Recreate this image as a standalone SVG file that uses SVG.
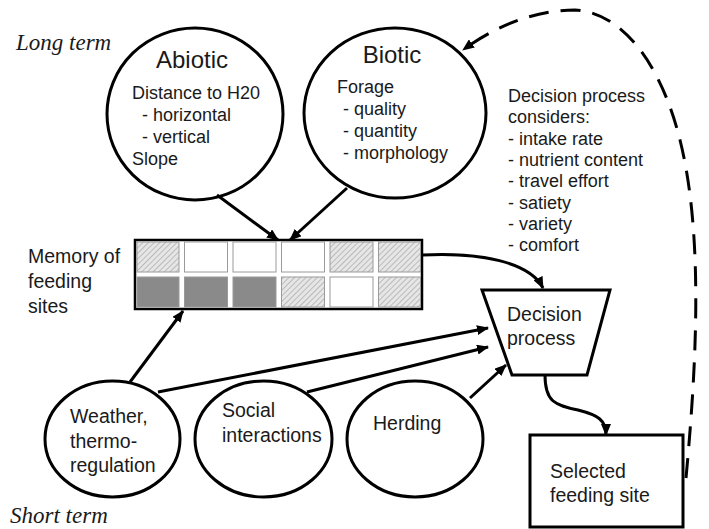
<svg xmlns="http://www.w3.org/2000/svg" width="709" height="529" viewBox="0 0 709 529">
<defs>
<style>
text{font-family:"Liberation Sans",Arial,sans-serif;fill:#1a1a1a}
.t{font-size:24px}
.b{font-size:18px}
.e{font-size:19.5px}
.term{font-family:"Liberation Serif","Times New Roman",serif;font-style:italic;font-size:23px}
.node{fill:#fff;stroke:#000;stroke-width:3}
.c{fill:none;stroke:#000;stroke-width:3}
.dash{fill:none;stroke:#000;stroke-width:3;stroke-dasharray:20 12}
.cell{stroke:#9a9a9a;stroke-width:1}
.w{fill:#fff}
.h{fill:url(#hatch)}
.d{fill:#8a8a8a}
</style>
<pattern id="hatch" patternUnits="userSpaceOnUse" width="4" height="4" patternTransform="rotate(45)">
<rect width="4" height="4" fill="#e6e6e6"/>
<line x1="0" y1="0" x2="0" y2="4" stroke="#8f8f8f" stroke-width="1"/>
</pattern>
<marker id="ah" viewBox="0 0 12 10" refX="11" refY="5" markerWidth="12" markerHeight="10" markerUnits="userSpaceOnUse" orient="auto">
<path d="M0,0 L12,5 L0,10 z" fill="#000"/>
</marker>
</defs>

<text class="term" x="16" y="50">Long term</text>
<text class="term" x="10" y="523">Short term</text>

<g id="abiotic">
<ellipse class="node" cx="195" cy="114" rx="88" ry="86"/>
<text class="t" x="192" y="68" text-anchor="middle">Abiotic</text>
<text class="b" x="132" y="99">Distance to H20</text>
<text class="b" x="142" y="121">- horizontal</text>
<text class="b" x="142" y="143">- vertical</text>
<text class="b" x="132" y="165">Slope</text>
</g>

<g id="biotic">
<ellipse class="node" cx="395" cy="113" rx="91" ry="85"/>
<text class="t" x="392" y="63" text-anchor="middle">Biotic</text>
<text class="b" x="337" y="93">Forage</text>
<text class="b" x="343" y="115">- quality</text>
<text class="b" x="343" y="137">- quantity</text>
<text class="b" x="343" y="159">- morphology</text>
</g>

<g id="considers">
<text class="b" x="508" y="102">Decision process</text>
<text class="b" x="508" y="123">considers:</text>
<text class="b" x="508" y="145">- intake rate</text>
<text class="b" x="508" y="166">- nutrient content</text>
<text class="b" x="508" y="187">- travel effort</text>
<text class="b" x="508" y="209">- satiety</text>
<text class="b" x="508" y="230">- variety</text>
<text class="b" x="508" y="251">- comfort</text>
</g>

<g id="memory">
<text class="e" x="28" y="263">Memory of</text>
<text class="e" x="28" y="288">feeding</text>
<text class="e" x="28" y="313">sites</text>
<rect x="135" y="240" width="287" height="69" fill="#fff" stroke="#000" stroke-width="2.5"/>
<rect class="cell h" x="137" y="242" width="42" height="30"/>
<rect class="cell w" x="184.5" y="242" width="43" height="30"/>
<rect class="cell w" x="233" y="242" width="43" height="30"/>
<rect class="cell w" x="281.5" y="242" width="43" height="30"/>
<rect class="cell h" x="330" y="242" width="43" height="30"/>
<rect class="cell h" x="378.5" y="242" width="42" height="30"/>
<rect class="cell d" x="137" y="277" width="42" height="30"/>
<rect class="cell d" x="184.5" y="277" width="43" height="30"/>
<rect class="cell d" x="233" y="277" width="43" height="30"/>
<rect class="cell h" x="281.5" y="277" width="43" height="30"/>
<rect class="cell w" x="330" y="277" width="43" height="30"/>
<rect class="cell h" x="378.5" y="277" width="42" height="30"/>
</g>

<g id="decision">
<path class="node" d="M482,290 L610,290 L587,375 L512,375 Z"/>
<text class="e" x="507" y="321">Decision</text>
<text class="e" x="507" y="345">process</text>
</g>

<g id="weather">
<ellipse class="node" cx="112.5" cy="439" rx="67.5" ry="58"/>
<text class="e" x="70" y="423">Weather,</text>
<text class="e" x="70" y="448">thermo-</text>
<text class="e" x="70" y="472">regulation</text>
</g>

<g id="social">
<ellipse class="node" cx="263.5" cy="439" rx="68.5" ry="58"/>
<text class="e" x="222" y="417">Social</text>
<text class="e" x="222" y="442">interactions</text>
</g>

<g id="herding">
<ellipse class="node" cx="415" cy="439" rx="68" ry="58"/>
<text class="e" x="373" y="430">Herding</text>
</g>

<g id="selected">
<rect class="node" x="530" y="435" width="153" height="92"/>
<text class="e" x="550" y="478">Selected</text>
<text class="e" x="550" y="502">feeding site</text>
</g>

<g id="connectors">
<path class="c" d="M217,195 L278,240" marker-end="url(#ah)"/>
<path class="c" d="M347,188 L290,240" marker-end="url(#ah)"/>
<path class="c" d="M422,255 C480,252 530,262 543,288" marker-end="url(#ah)"/>
<path class="c" d="M130,382 L183,311" marker-end="url(#ah)"/>
<path class="c" d="M158,392 L488,328" marker-end="url(#ah)"/>
<path class="c" d="M307,392 L488,347" marker-end="url(#ah)"/>
<path class="c" d="M470,398 L506,365" marker-end="url(#ah)"/>
<path class="c" d="M545,375 C545,402 555,405 578,410 C598,415 606,420 606,435" marker-end="url(#ah)"/>
<path class="dash" d="M686,478 C695,380 705,240 680,140 C660,60 620,12 575,10 C530,10 490,30 463,50" marker-end="url(#ah)"/>
</g>
</svg>
